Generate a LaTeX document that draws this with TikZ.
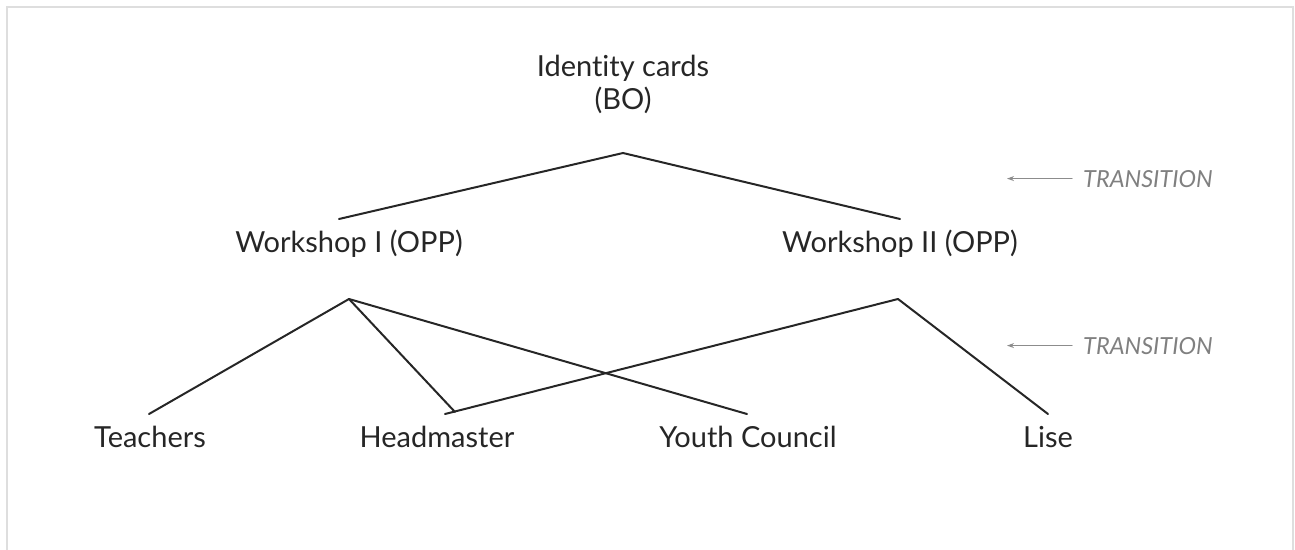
\documentclass[tikz,border=0pt]{standalone}
\usepackage{fontspec}
\setmainfont{Lato}[Ligatures={NoCommon}]
\usetikzlibrary{arrows.meta}

\begin{document}
\begin{tikzpicture}[x=1pt, y=-1pt, line cap=round,
        label_style/.style={font=\fontsize{29}{33}\selectfont, text=black!85, inner sep=0pt, anchor=base},
        trans_style/.style={font=\fontsize{23.5}{28}\selectfont\itshape, text=black!50, inner sep=0pt, anchor=base west},
        edge_style/.style={draw=black!85, line width=2pt},
        arrow_style/.style={draw=black!45, line width=1.2pt, -{Stealth[length=7pt, width=5pt]}},
        frame_style/.style={draw=black!13, line width=2.5pt}]

        \useasboundingbox (0,0) rectangle (1295,549);
        \draw [frame_style] (7,560) -- (7,7) -- (1293,7) -- (1293,560);

        \node [label_style, align=center](identity) at (623,109) {Identity cards\\(BO)};

        \node [label_style](workshop_one) at (349,252) {Workshop I (OPP)};

        \node [label_style](workshop_two) at (900,252) {Workshop II (OPP)};

        \node [label_style](teachers) at (150,447) {Teachers};

        \node [label_style](headmaster) at (437,447) {Headmaster};

        \node [label_style](youth_council) at (748,447) {Youth Council};

        \node [label_style](lise) at (1048,447) {Lise};

        \node [trans_style](trans_top) at (1083,187) {TRANSITION};

        \node [trans_style](trans_bottom) at (1083,354) {TRANSITION};

        \coordinate (top_apex) at (623,153);
        \coordinate (one_in) at (339,219);
        \coordinate (two_in) at (900,219);
        \coordinate (one_apex) at (349,299);
        \coordinate (two_apex) at (898,299);
        \coordinate (teachers_in) at (149,414);
        \coordinate (head_in_a) at (455,412);
        \coordinate (head_in_b) at (445,414);
        \coordinate (youth_in) at (747,414);
        \coordinate (lise_in) at (1048,414);

        \draw [edge_style] (one_in) -- (top_apex) -- (two_in);

        \draw [edge_style] (one_apex) -- (teachers_in);

        \draw [edge_style] (one_apex) -- (head_in_a);

        \draw [edge_style] (one_apex) -- (youth_in);

        \draw [edge_style] (two_apex) -- (head_in_b);

        \draw [edge_style] (two_apex) -- (lise_in);

        \draw [arrow_style] ([xshift=-11pt]trans_top.west) -- ++(-65,0);

        \draw [arrow_style] ([xshift=-11pt]trans_bottom.west) -- ++(-65,0);

\end{tikzpicture}
\end{document}
